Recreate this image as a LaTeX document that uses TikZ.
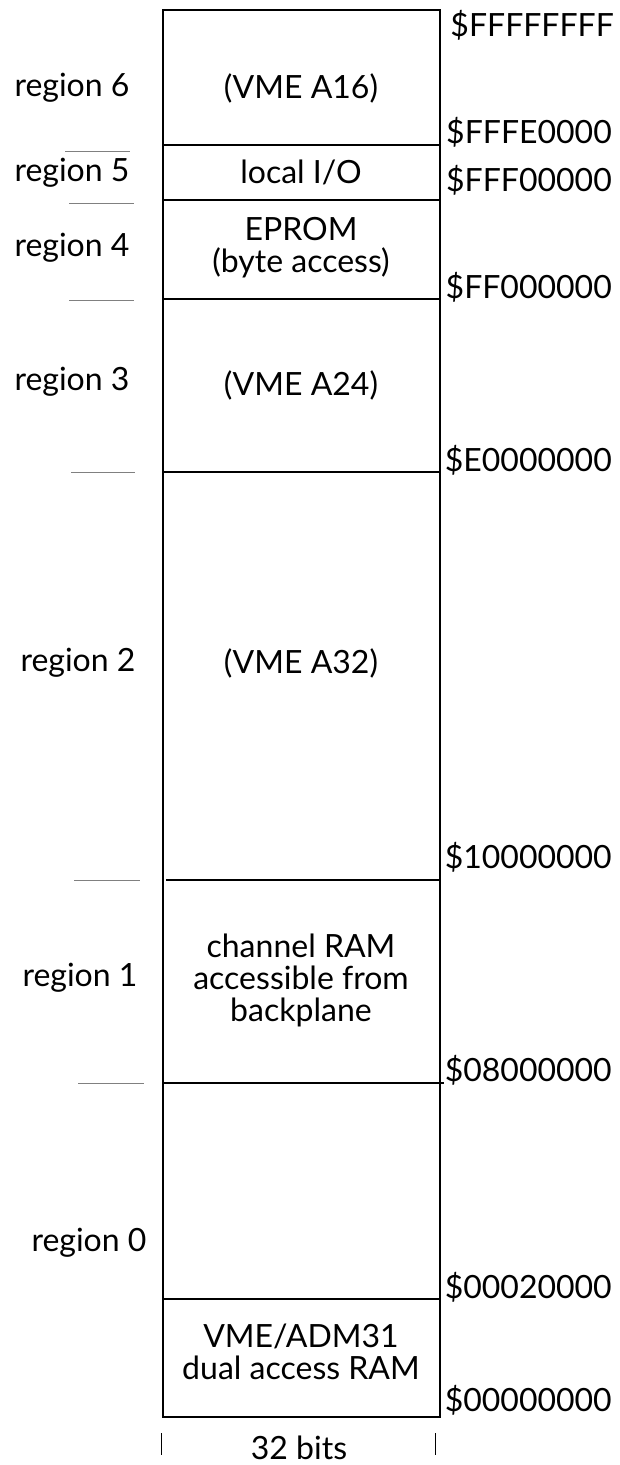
\documentclass[tikz,border=0pt]{standalone}
\usepackage{fontspec}
\setmainfont{Lato}
\begin{document}
\begin{tikzpicture}[x=1pt,y=-1pt,
  lbl/.style={inner sep=0pt, font=\fontsize{32}{32}\selectfont, align=center},
  addr/.style={lbl, anchor=east},
  divider/.style={line width=1.4pt},
  tick/.style={draw=black!50, line width=1pt},
  widthmark/.style={line width=1pt}]
\useasboundingbox (0,0) rectangle (620,1465);

% outer frame of the memory map
\draw[line width=1.4pt] (163,10) rectangle (440,1417);

% boundaries between regions
\draw[divider] (163,145) -- (440,145);
\draw[divider] (163,200) -- (440,200);
\draw[divider] (163,299) -- (440,299);
\draw[divider] (163,472) -- (440,472);
\draw[divider] (166,880) -- (440,880);
\draw[divider] (163,1083) -- (444,1083);
\draw[divider] (163,1299) -- (440,1299);

% short marks between region names
\draw[tick] (65,151) -- (130,151);
\draw[tick] (69,203) -- (134,203);
\draw[tick] (69,300) -- (134,300);
\draw[tick] (71,472) -- (135,472);
\draw[tick] (74,880) -- (140,880);
\draw[tick] (78,1083) -- (144,1083);

% region names
\node[lbl] (r6) at (72,88) {region 6};
\node[lbl] (r5) at (72,173) {region 5};
\node[lbl] (r4) at (72,248) {region 4};
\node[lbl] (r3) at (72,382) {region 3};
\node[lbl] (r2) at (78,663) {region 2};
\node[lbl] (r1) at (80,978) {region 1};
\node[lbl] (r0) at (89,1243) {region 0};

% contents of each region
\node[lbl] (c6) at (301,88) {(VME A16)};
\node[lbl] (c5) at (301,172) {local I/O};
\node[lbl] (c4) at (301,248) {EPROM\\(byte access)};
\node[lbl] (c3) at (301,385) {(VME A24)};
\node[lbl] (c2) at (301,663) {(VME A32)};
\node[lbl] (c1) at (301,980) {channel RAM\\accessible from\\backplane};
\node[lbl] (c0) at (301,1352) {VME/ADM31\\dual access RAM};

% addresses
\node[addr] (a0) at (614,25) {\$FFFFFFFF};
\node[addr] (a1) at (612,132) {\$FFFE0000};
\node[addr] (a2) at (612,180) {\$FFF00000};
\node[addr] (a3) at (612,287) {\$FF000000};
\node[addr] (a4) at (612,460) {\$E0000000};
\node[addr] (a5) at (612,857) {\$10000000};
\node[addr] (a6) at (612,1070) {\$08000000};
\node[addr] (a7) at (612,1287) {\$00020000};
\node[addr] (a8) at (612,1400) {\$00000000};

% word width
\coordinate (wl1) at (161,1433);
\coordinate (wl2) at (161,1455);
\coordinate (wr1) at (435,1433);
\coordinate (wr2) at (435,1455);
\draw[widthmark] (wl1) -- (wl2);
\draw[widthmark] (wr1) -- (wr2);
\node[lbl, anchor=base] (w) at (299,1459) {32 bits};
\end{tikzpicture}
\end{document}
